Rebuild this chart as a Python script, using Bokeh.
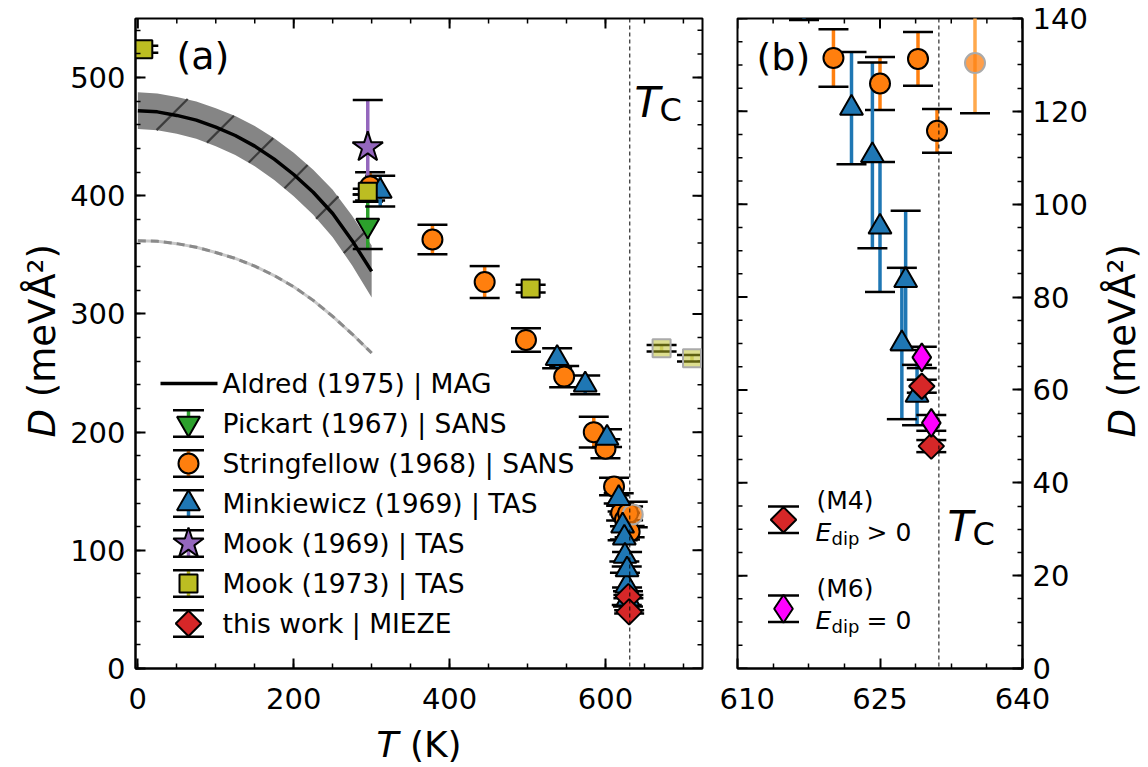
import math
import numpy as np
from bokeh.plotting import figure
from bokeh.layouts import row, column
from bokeh.models import Range1d, LinearAxis, SingleIntervalTicker, FixedTicker, Label, Span
from bokeh.embed import file_html
from bokeh.resources import INLINE

FONT = "DejaVu Sans"

# ---------------- data ----------------
aldred_T = [0, 25, 50, 75, 100, 125, 150, 175, 200, 225, 250, 275, 300]
aldred_D = [472, 471, 468, 464, 458, 451, 442, 431, 418, 403, 385, 362, 336]
aldred_lo = [456.5, 455.5, 452.4, 448.2, 441.9, 434.5, 425.0, 413.4, 399.7, 383.9, 365.0, 341.0, 314.0]
aldred_hi = [487.5, 486.5, 483.6, 479.8, 474.1, 467.5, 459.0, 448.6, 436.3, 422.1, 405.0, 383.0, 358.0]
hatch_T = [44, 106, 158, 203, 243, 277]

ref_T = [0, 25, 50, 75, 100, 125, 150, 175, 200, 225, 250, 275, 300]
ref_D = [362, 361.5, 359.5, 356.5, 352, 347, 340.5, 332.5, 323, 311.5, 298, 283, 267]

pickart_T = [295]
pickart_D = [375]
pickart_err = [20]

string_T = [298, 378, 445, 498, 547, 585, 600, 611, 620.1, 625.0, 629.0, 631.0]
string_D = [408, 363, 327, 278, 247, 200, 186, 154, 131.5, 126, 131.3, 115.8]
string_err = [12, 12.5, 13.5, 10, 9, 13, 8, 7.5, 6.2, 5.7, 5.8, 4.7]
string_above_T = [635.0]
string_above_D = [130.4]
string_above_err = [10.8]

mink_T = [311, 538, 574, 602, 617, 622.0, 624.2, 625.0, 627.3, 627.7, 628.9]
mink_D = [404, 262.5, 240, 195, 144, 120.7, 110.5, 95.1, 70.0, 83.6, 58.9]
mink_err = [13, 8.5, 8, 7.5, 4.3, 12.1, 20, 14, 16.3, 15, 6.5]

mook69_T = [295]
mook69_D = [441]
mook69_err = [40]

mook73_T = [7, 295, 504]
mook73_D = [524, 403.5, 321.5]
mook73_err = [3, 2.5, 3.3]
mook73_above_T = [672, 711]
mook73_above_D = [271, 262.5]
mook73_above_err = [2.8, 2.8]

m4_T = [629.4, 630.4]
m4_D = [60.8, 47.9]
m4_err = [1.4, 1.3]
m6_T = [629.4, 630.4]
m6_D = [67.0, 52.9]
m6_err = [2.3, 1.7]

TC = 631.2

legend_labels = ["Aldred (1975) | MAG", "Pickart (1967) | SANS", "Stringfellow (1968) | SANS",
                 "Minkiewicz (1969) | TAS", "Mook (1969) | TAS", "Mook (1973) | TAS",
                 "this work | MIEZE"]
a_xticks = [0, 200, 400, 600]
b_xticks = [610, 625, 640]

# ---------------- geometry (page pixels) ----------------
W, H = 1148, 767
TOP, BOTTOM = 18, 668
A_L, A_R = 135, 702
B_L, B_R = 737, 1022
A_X, A_Y = (-3.0, 724.5), (0.0, 550.0)
B_X, B_Y = (610.0, 640.0), (0.0, 140.0)
L_W = 60            # strip holding the left axis title
A_BR = 17           # right border of panel (a)
B_BL = 18
R_X0 = 1095         # strip holding the right axis title
A_BOTTOM_BORDER = 55
BASE_FIX = 12       # Label "alphabetic" baselines land this much lower on the page


def px2data(px, py, left, right, xr, yr):
    x = xr[0] + (px - left) / (right - left) * (xr[1] - xr[0])
    y = yr[0] + (BOTTOM - py) / (BOTTOM - TOP) * (yr[1] - yr[0])
    return x, y


def pa(px, py):
    return px2data(px, py, A_L, A_R, A_X, A_Y)


def pb(px, py):
    return px2data(px, py, B_L, B_R, B_X, B_Y)


def make_fig(xr, yr, left, right, bl, br):
    p = figure(x_range=Range1d(*xr), y_range=Range1d(*yr),
               frame_width=right - left, frame_height=BOTTOM - TOP,
               min_border_left=bl, min_border_right=br,
               min_border_top=TOP, min_border_bottom=A_BOTTOM_BORDER,
               toolbar_location=None, output_backend="svg",
               x_axis_location=None, y_axis_location=None)
    p.grid.visible = False
    p.outline_line_color = "black"
    p.outline_line_width = 2
    p.background_fill_color = "white"
    p.border_fill_color = "white"
    return p


class TextStrip:
    """A blank figure whose data units are page pixels, for titles outside the frames."""

    def __init__(self, x0, y0, w, h, bl=0, br=0):
        self.x0, self.y0, self.w, self.h = x0, y0, w, h
        p = figure(x_range=Range1d(x0, x0 + w), y_range=Range1d(0, h),
                   frame_width=w, frame_height=h, min_border=0,
                   min_border_left=bl, min_border_right=br, min_border_top=0, min_border_bottom=0,
                   toolbar_location=None, output_backend="svg",
                   x_axis_location=None, y_axis_location=None)
        p.grid.visible = False
        p.outline_line_color = None
        p.background_fill_color = "white"
        p.border_fill_color = "white"
        self.p = p

    def text(self, px, py, txt, size, italic=False, angle=0.0, baseline="alphabetic"):
        self.p.add_layout(Label(x=px, y=self.y0 + self.h - py, text=txt, text_font=FONT,
                                text_font_size=f"{size}px",
                                text_font_style="italic" if italic else "normal",
                                text_color="black", text_align="left", text_baseline=baseline,
                                angle=angle))


def add_axis(p, loc, ticker, standoff):
    ax = LinearAxis(ticker=ticker)
    ax.axis_line_width = 2
    ax.axis_line_color = "black"
    ax.major_tick_in = 10
    ax.major_tick_out = 0
    ax.minor_tick_in = 5
    ax.minor_tick_out = 0
    ax.major_tick_line_width = 2
    ax.minor_tick_line_width = 1.5
    ax.major_tick_line_color = "black"
    ax.minor_tick_line_color = "black"
    ax.major_label_text_font = FONT
    ax.major_label_text_font_size = "29px"
    ax.major_label_text_color = "black"
    ax.major_label_standoff = standoff
    p.add_layout(ax, loc)


def mirror_ticks(p, side, majors, minors, xr, yr):
    # inward ticks on the unlabelled sides: a dash centred on the frame edge,
    # its outer half is clipped away by the frame
    for vals, ln, lw in ((majors, 20, 2), (minors, 10, 1.5)):
        vals = list(vals)
        if side == "top":
            p.scatter(x=vals, y=[yr[1]] * len(vals), marker="dash", angle=math.pi / 2,
                      size=ln, line_color="black", line_width=lw)
        elif side == "right":
            p.scatter(x=[xr[1]] * len(vals), y=vals, marker="dash",
                      size=ln, line_color="black", line_width=lw)
        else:
            p.scatter(x=[xr[0]] * len(vals), y=vals, marker="dash",
                      size=ln, line_color="black", line_width=lw)


def label(p, x, y, text, size, italic=False, baseline="alphabetic"):
    p.add_layout(Label(x=x, y=y, text=text, text_font=FONT, text_font_size=f"{size}px",
                       text_font_style="italic" if italic else "normal", text_color="black",
                       text_align="left", text_baseline=baseline))


def errorbars(p, T, D, err, color):
    lo = [d - e for d, e in zip(D, err)]
    hi = [d + e for d, e in zip(D, err)]
    p.segment(x0=T, y0=lo, x1=T, y1=hi, line_color=color, line_width=3.5)
    p.scatter(x=list(T) + list(T), y=lo + hi, marker="dash", size=30,
              line_color="black", line_width=2.5)


def markers(p, T, D, style, fill_alpha=1.0, edge="black"):
    p.scatter(x=T, y=D, marker=style["marker"], size=style["size"], angle=style.get("angle", 0.0),
              fill_color=style["color"], fill_alpha=fill_alpha, line_color=edge, line_width=2)


STY = {
    "pickart": dict(marker="inverted_triangle", size=23, color="#2ca02c"),
    "string": dict(marker="circle", size=20, color="#ff7f0e"),
    "mink": dict(marker="triangle", size=23, color="#1f77b4"),
    "mook69": dict(marker="star", size=32, color="#9467bd"),
    "mook73": dict(marker="square", size=18, color="#bcbd22"),
    "m4": dict(marker="square", size=18, color="#d62728", angle=math.pi / 4),
    "m6": dict(marker="diamond", size=28, color="#ff00ff"),
}


def draw_data(p, with_m6):
    errorbars(p, pickart_T, pickart_D, pickart_err, STY["pickart"]["color"])
    errorbars(p, string_T, string_D, string_err, STY["string"]["color"])
    errorbars(p, string_above_T, string_above_D, string_above_err, "#ffa94d")
    errorbars(p, mink_T, mink_D, mink_err, STY["mink"]["color"])
    errorbars(p, mook69_T, mook69_D, mook69_err, STY["mook69"]["color"])
    errorbars(p, mook73_T, mook73_D, mook73_err, STY["mook73"]["color"])
    errorbars(p, mook73_above_T, mook73_above_D, mook73_above_err, "#dcdc90")
    errorbars(p, m4_T, m4_D, m4_err, STY["m4"]["color"])
    if with_m6:
        errorbars(p, m6_T, m6_D, m6_err, STY["m6"]["color"])
    markers(p, pickart_T, pickart_D, STY["pickart"])
    markers(p, string_T, string_D, STY["string"])
    markers(p, string_above_T, string_above_D, STY["string"], fill_alpha=0.75, edge="#aaaaaa")
    markers(p, mink_T, mink_D, STY["mink"])
    markers(p, mook69_T, mook69_D, STY["mook69"])
    markers(p, mook73_T, mook73_D, STY["mook73"])
    markers(p, mook73_above_T, mook73_above_D, STY["mook73"], fill_alpha=0.5, edge="#aaaaaa")
    markers(p, m4_T, m4_D, STY["m4"])
    if with_m6:
        markers(p, m6_T, m6_D, STY["m6"])


# ================= panel (a) =================
pa_fig = make_fig(A_X, A_Y, A_L, A_R, A_L - L_W, A_BR)
add_axis(pa_fig, "below", FixedTicker(ticks=a_xticks, minor_ticks=list(np.arange(0, 725, 50))), 19)
add_axis(pa_fig, "left", SingleIntervalTicker(interval=100, num_minor_ticks=5), 10)
mirror_ticks(pa_fig, "top", a_xticks, np.arange(50, 725, 50), A_X, A_Y)
mirror_ticks(pa_fig, "right", np.arange(0, 551, 100), np.arange(20, 551, 20), A_X, A_Y)

pa_fig.varea(x=aldred_T, y1=aldred_lo, y2=aldred_hi, fill_color="#858585")
sx = (A_R - A_L) / (A_X[1] - A_X[0])
sy = (BOTTOM - TOP) / (A_Y[1] - A_Y[0])
hx0, hy0, hx1, hy1 = [], [], [], []
for tk in hatch_T:
    lo = np.interp(tk, aldred_T, aldred_lo)
    hi = np.interp(tk, aldred_T, aldred_hi)
    dc = (lo + hi) / 2
    slope = -(np.interp(tk + 5, aldred_T, aldred_D) - np.interp(tk - 5, aldred_T, aldred_D)) / 10 * sy / sx
    d = (hi - lo) * sy / (1 + slope)
    hx0.append(tk - d / 2 / sx)
    hy0.append(dc - d / 2 / sy)
    hx1.append(tk + d / 2 / sx)
    hy1.append(dc + d / 2 / sy)
pa_fig.segment(x0=hx0, y0=hy0, x1=hx1, y1=hy1, line_color="#3c3c3c", line_width=2.2)
pa_fig.line(aldred_T, aldred_D, line_color="black", line_width=3.5)
pa_fig.line(ref_T, ref_D, line_color="#c8c8c8", line_width=3)
pa_fig.line(ref_T, ref_D, line_color="#8a8a8a", line_width=3, line_dash="8 5")

pa_fig.add_layout(Span(location=TC, dimension="height", line_color="black",
                       line_width=1, line_dash="4 3"))
draw_data(pa_fig, with_m6=False)

# legend of panel (a)
row_y = [383, 423, 463, 503, 543, 583, 623]
mk_x = 188
x0, y0 = pa(160, row_y[0])
x1, _ = pa(217, row_y[0])
pa_fig.line([x0, x1], [y0, y0], line_color="black", line_width=3.5)
for i, key in enumerate(["pickart", "string", "mink", "mook69", "mook73", "m4"]):
    ry = row_y[i + 1]
    xm, ym = pa(mk_x, ry)
    _, ylo = pa(mk_x, ry + 13.3)
    _, yhi = pa(mk_x, ry - 13.3)
    st = STY[key]
    pa_fig.segment(x0=[xm], y0=[ylo], x1=[xm], y1=[yhi], line_color=st["color"], line_width=3.5)
    pa_fig.scatter(x=[xm, xm], y=[ylo, yhi], marker="dash", size=31, line_color="black", line_width=2.5)
    pa_fig.scatter(x=[xm], y=[ym], marker=st["marker"], size=st["size"], angle=st.get("angle", 0.0),
                   fill_color=st["color"], line_color="black", line_width=2)
for i, txt in enumerate(legend_labels):
    tx, ty = pa(222, row_y[i])
    label(pa_fig, tx, ty, txt, 26.5, baseline="middle")

tx, ty = pa(176, 55)
label(pa_fig, tx, ty, "(a)", 38)
tx, ty = pa(634, 102)
label(pa_fig, tx, ty, "T", 42, italic=True)
tx, ty = pa(659, 109)
label(pa_fig, tx, ty, "C", 32)

# ================= panel (b) =================
pb_fig = make_fig(B_X, B_Y, B_L, B_R, B_BL, R_X0 - B_R)
b_minor = [613.75, 617.5, 621.25, 628.75, 632.5, 636.25]
add_axis(pb_fig, "below", FixedTicker(ticks=b_xticks, minor_ticks=b_minor), 19)
add_axis(pb_fig, "right", SingleIntervalTicker(interval=20, num_minor_ticks=4), 10)
mirror_ticks(pb_fig, "top", b_xticks, b_minor, B_X, B_Y)
mirror_ticks(pb_fig, "left", np.arange(0, 141, 20), np.arange(5, 141, 5), B_X, B_Y)

pb_fig.add_layout(Span(location=TC, dimension="height", line_color="black",
                       line_width=1, line_dash="4 3"))
draw_data(pb_fig, with_m6=True)

for key, ry in (("m4", 519.3), ("m6", 608.3)):
    st = STY[key]
    xm, ym = pb(783, ry)
    _, ylo = pb(783, ry + 13.3)
    _, yhi = pb(783, ry - 13.3)
    pb_fig.segment(x0=[xm], y0=[ylo], x1=[xm], y1=[yhi], line_color=st["color"], line_width=3.5)
    pb_fig.scatter(x=[xm, xm], y=[ylo, yhi], marker="dash", size=31, line_color="black", line_width=2.5)
    pb_fig.scatter(x=[xm], y=[ym], marker=st["marker"], size=st["size"], angle=st.get("angle", 0.0),
                   fill_color=st["color"], line_color="black", line_width=2)

for name, rel, base in (("(M4)", "> 0", 500), ("(M6)", "= 0", 588)):
    tx, ty = pb(816, base)
    label(pb_fig, tx, ty, name, 25)
    tx, ty = pb(815, base + 32)
    label(pb_fig, tx, ty, "E", 25, italic=True)
    tx, ty = pb(831, base + 38)
    label(pb_fig, tx, ty, "dip", 18)
    tx, ty = pb(866, base + 32)
    label(pb_fig, tx, ty, rel, 25)

tx, ty = pb(756, 56)
label(pb_fig, tx, ty, "(b)", 38)
tx, ty = pb(947, 526)
label(pb_fig, tx, ty, "T", 42, italic=True)
tx, ty = pb(972, 533)
label(pb_fig, tx, ty, "C", 32)

# ================= axis titles (outside the frames) =================
AX_FS = 37
D_ADV = 0.77 * AX_FS       # advance of the oblique "D"
T_ADV = 0.611 * 36         # advance of the oblique "T"
SP_ADV = 0.318 * AX_FS     # advance of a space
YT_START = 419             # page y where the rotated titles begin (their lower end)

left_strip = TextStrip(0, 0, L_W, H)
left_strip.text(42, YT_START, "D", AX_FS, italic=True, angle=math.pi / 2, baseline="middle")
left_strip.text(42, YT_START - D_ADV - SP_ADV, "(meVÅ²)", AX_FS, angle=math.pi / 2, baseline="middle")

a_total_h = TOP + (BOTTOM - TOP) + A_BOTTOM_BORDER
bottom_strip = TextStrip(A_L, a_total_h, A_R - A_L, H - a_total_h, bl=A_L - L_W, br=A_BR)
t_start = 376
bottom_strip.text(t_start, 756 - BASE_FIX, "T", 36, italic=True)
bottom_strip.text(t_start + T_ADV + 0.318 * 36, 756 - BASE_FIX, "(K)", 36)

right_strip = TextStrip(R_X0, 0, W - R_X0, H)
right_strip.text(1122, YT_START, "D", AX_FS, italic=True, angle=math.pi / 2, baseline="middle")
right_strip.text(1122, YT_START - D_ADV - SP_ADV, "(meVÅ²)", AX_FS, angle=math.pi / 2, baseline="middle")

layout = row(left_strip.p, column(pa_fig, bottom_strip.p), pb_fig, right_strip.p)
open("out.html", "w").write(file_html(layout, INLINE))
